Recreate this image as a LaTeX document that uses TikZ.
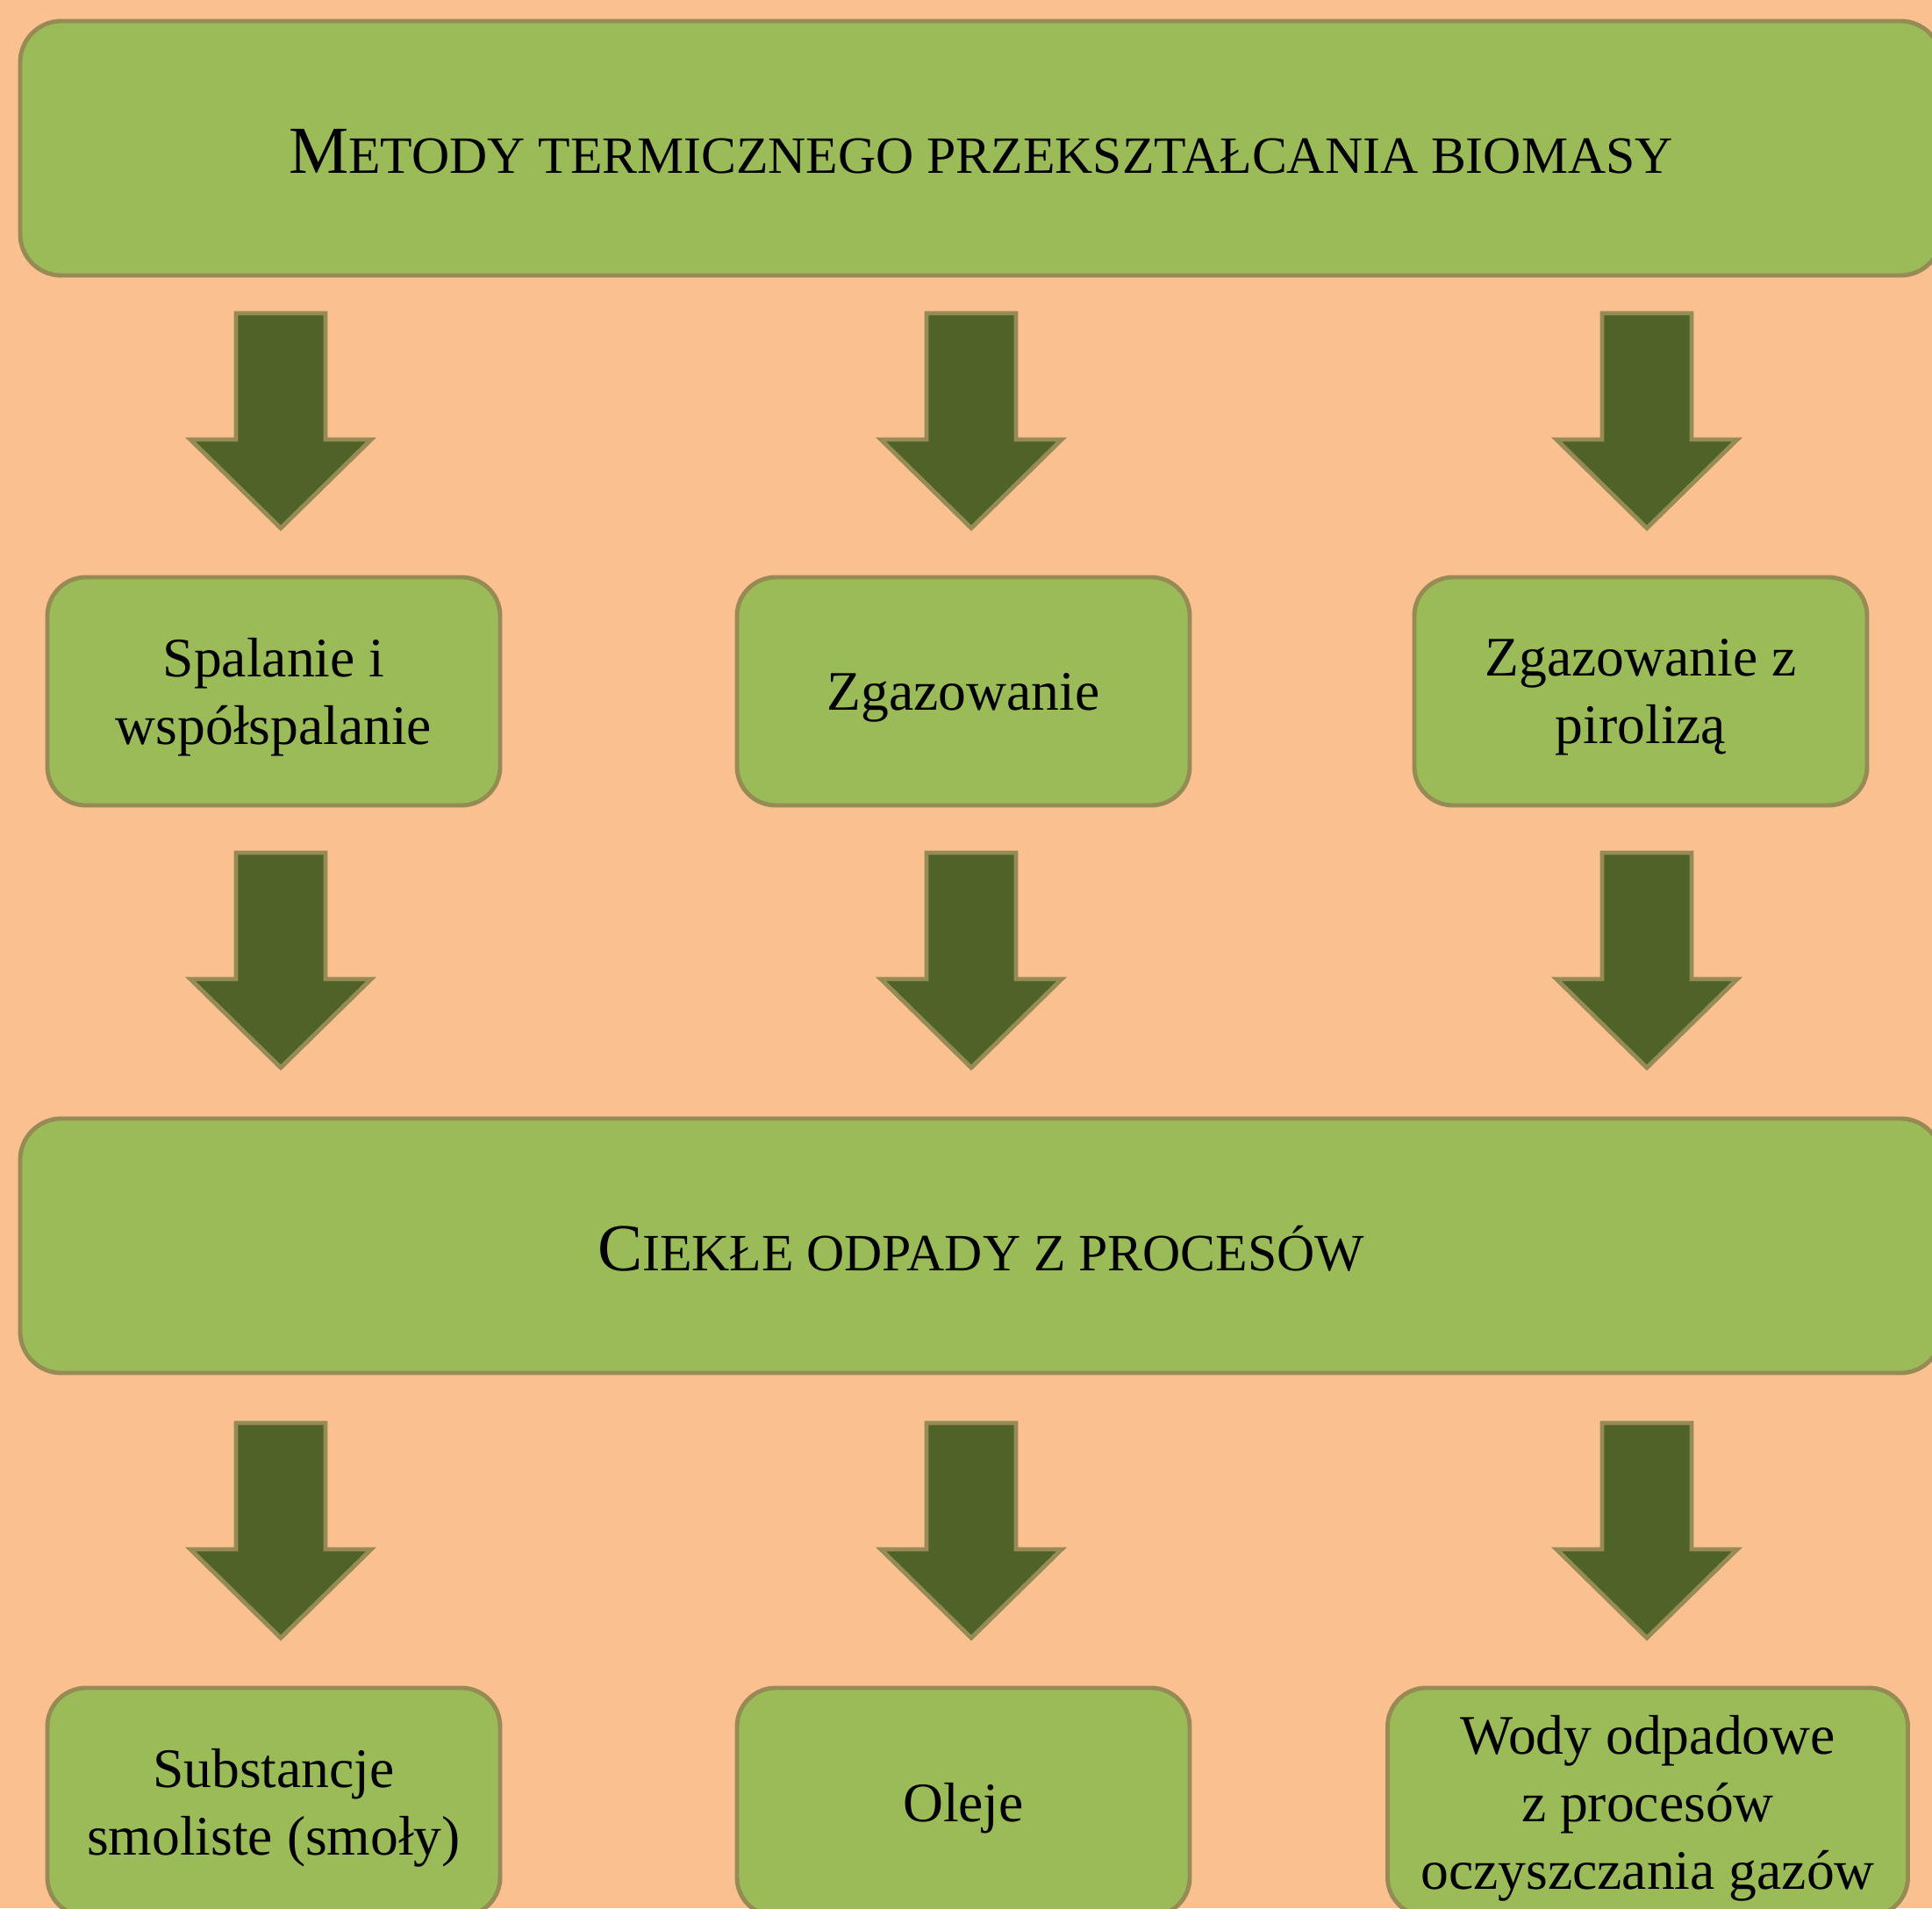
\documentclass[tikz,border=0pt]{standalone}
\usepackage{fontspec}
\setmainfont{Liberation Serif}
\usetikzlibrary{positioning}
\definecolor{bgorange}{HTML}{FAC090}
\definecolor{boxgreen}{HTML}{9BBB59}
\definecolor{edgeolive}{HTML}{968A55}
\definecolor{arrowgreen}{HTML}{4F6228}
\newcommand{\fakesc}[2]{{\fontsize{21.8}{26}\selectfont #1}{\fontsize{17.0}{20}\selectfont #2}}
\newcommand{\blkarrow}[2]{\draw[blkarrow] (#1-0.51,#2) -- (#1+0.51,#2) -- (#1+0.51,#2-1.44) -- (#1+1.03,#2-1.44) -- (#1,#2-2.45) -- (#1-1.03,#2-1.44) -- (#1-0.51,#2-1.44) -- cycle;}
\tikzset{
  widebox/.style={draw=edgeolive, fill=boxgreen, line width=1.4pt, rounded corners=0.47cm,
    minimum width=21.9cm, minimum height=2.9cm, inner sep=0pt,
    execute at begin node={\rule{0pt}{16.5pt}}},
  stepbox/.style={draw=edgeolive, fill=boxgreen, line width=1.4pt, rounded corners=0.44cm,
    minimum width=5.16cm, minimum height=2.6cm, inner sep=0pt, align=center,
    font=\fontsize{18.1}{21.9}\selectfont, text depth=-2pt},
  blkarrow/.style={draw=edgeolive, fill=arrowgreen, line width=1.4pt, line join=miter}
}

\begin{document}
\begin{tikzpicture}[scale=1.0]
  \fill[bgorange] (0,0) rectangle (22.02,21.75) ; % background
  \useasboundingbox (0,0) rectangle (22.02,21.75) ;

  % block arrows, three rows
  \foreach \x in {3.20,11.07,18.77} {
    \blkarrow{\x}{18.18}
    \blkarrow{\x}{12.03}
    \blkarrow{\x}{5.53}
  }

  \node[widebox] (metody) at (11.18,20.06) {\fakesc{M}{ETODY TERMICZNEGO PRZEKSZTAŁCANIA BIOMASY}};

  \node[stepbox] (spalanie) at (3.12,13.87) {Spalanie i\\współspalanie};
  \node[stepbox] (zgaz) at (10.98,13.87) {Zgazowanie};
  \node[stepbox] (piroliza) at (18.70,13.87) {Zgazowanie z\\pirolizą};

  \node[widebox] (ciekle) at (11.18,7.55) {\fakesc{C}{IEKŁE ODPADY Z PROCESÓW}};

  \node[stepbox] (smoly) at (3.12,1.21) {Substancje\\smoliste (smoły)};
  \node[stepbox] (oleje) at (10.98,1.21) {Oleje};
  \node[stepbox, minimum width=5.93cm] (wody) at (18.78,1.21) {Wody odpadowe\\z procesów\\oczyszczania gazów};
\end{tikzpicture}
\end{document}
